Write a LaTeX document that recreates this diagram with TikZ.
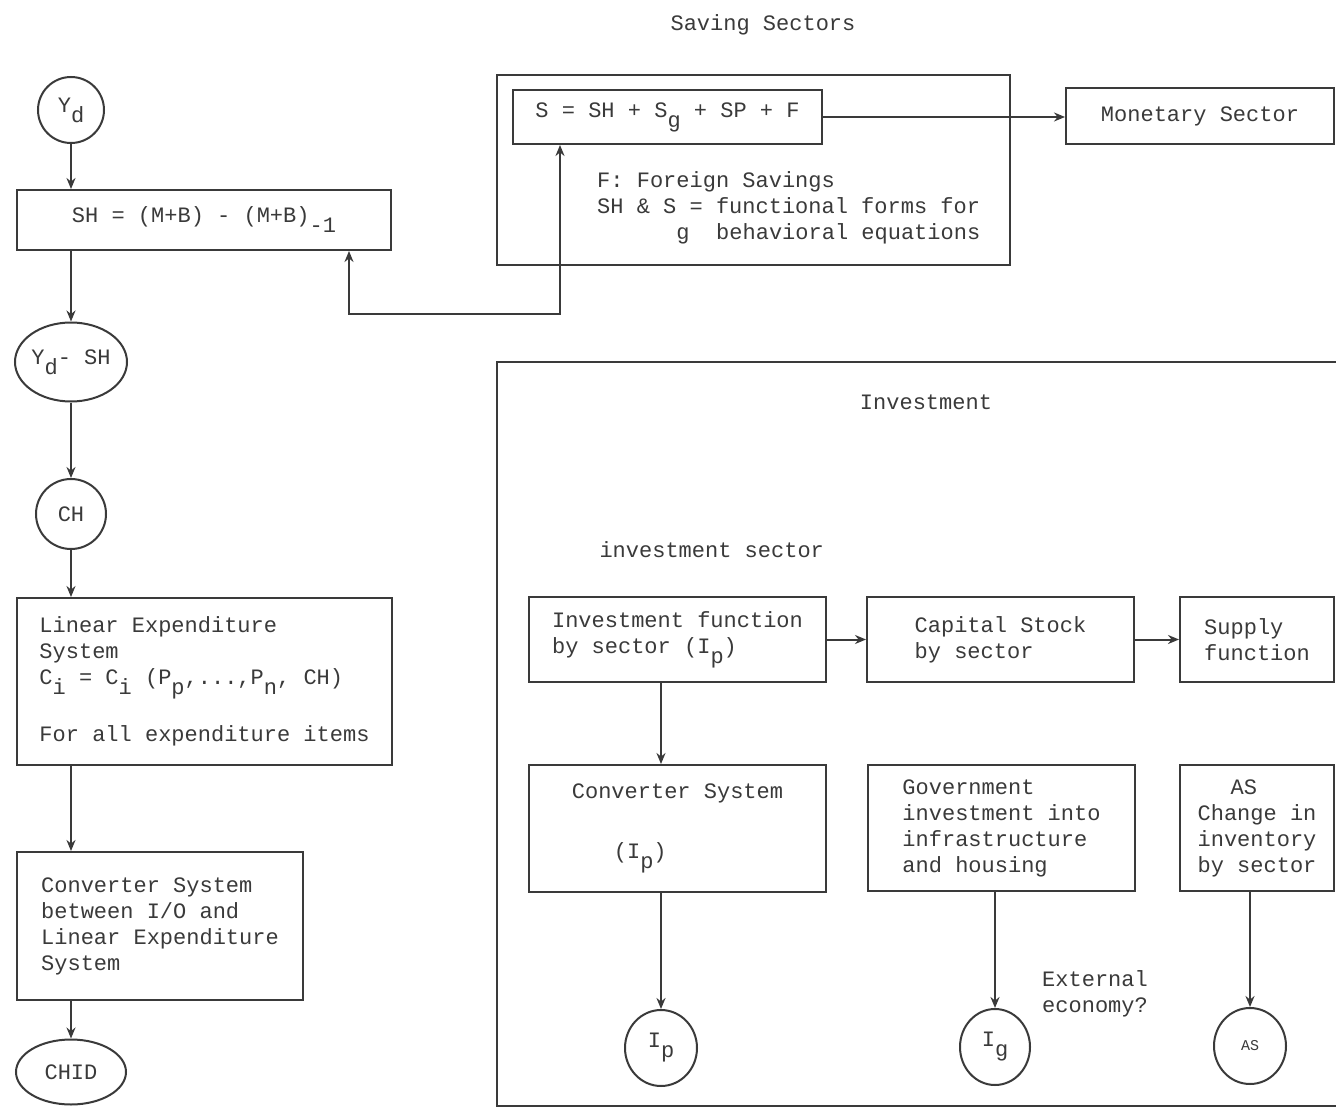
\documentclass[tikz,border=0pt]{standalone}
\usepackage{fontspec}
\setmainfont{Liberation Mono}
\usetikzlibrary{shapes.geometric,arrows.meta}
\definecolor{ink}{HTML}{3A3A3A}
\newcommand{\lowsub}[1]{\raisebox{-10pt}{#1}}
\newcommand{\dropsub}[1]{\makebox[0pt][l]{\raisebox{-26pt}[0pt][0pt]{#1}}}
\begin{document}
\begin{tikzpicture}[x=1pt,y=-1pt,
  every node/.style={font=\fontsize{22}{26}\selectfont, text=ink},
  box/.style={draw=ink, line width=2pt, inner sep=0pt, align=left},
  cbox/.style={draw=ink, line width=2pt, inner sep=0pt, align=center},
  oval/.style={ellipse, draw=ink, line width=2pt, inner sep=0pt},
  arr/.style={draw=ink, line width=2pt, -{Stealth[length=11pt,width=9pt]}},
  darr/.style={draw=ink, line width=2pt, {Stealth[length=11pt,width=9pt]}-{Stealth[length=11pt,width=9pt]}},
  frame/.style={draw=ink, line width=2pt}]
\useasboundingbox[fill=white] (0,0) rectangle (1336,1110);

% ---------- left column ----------
\node[oval, minimum width=66, minimum height=66] (yd) at (71,110) {Y\lowsub{d}};
\node[cbox, minimum width=374, minimum height=60] (sh) at (204,220) {SH = (M+B) - (M+B)\lowsub{-1}};
\node[oval, minimum width=110, minimum height=79] (ydsh) at (71,362) {Y\lowsub{d}- SH};
\node[oval, minimum width=70, minimum height=70] (ch) at (71,514) {CH};
\node[box, minimum width=375, minimum height=167] (les) at (204.5,681.5)
  {Linear Expenditure\\System\\C\lowsub{i} = C\lowsub{i} (P\lowsub{p},...,P\lowsub{n}, CH)\\[26pt]For all expenditure items};
\node[box, minimum width=286, minimum height=148] (conv) at (160,926)
  {Converter System\\between I/O and\\Linear Expenditure\\System};
\node[oval, minimum width=110, minimum height=65] (chid) at (71,1072) {CHID};

\draw[arr] (yd.south) -- (yd.south |- sh.north);
\draw[arr] (sh.south -| yd) -- (ydsh.north);
\draw[arr] (ydsh.south) -- (ch.north);
\draw[arr] (ch.south) -- (ch.south |- les.north);
\draw[arr] (les.south -| ch) -- (conv.north -| ch);
\draw[arr] (conv.south -| chid) -- (chid.north);

% ---------- saving sectors ----------
\node (savtitle) at (763,25) {Saving Sectors};
\node[box, minimum width=513, minimum height=190] (savout) at (753.5,170) {};
\node[cbox, minimum width=309, minimum height=54] (ss) at (667.5,117) {S = SH + S\lowsub{g} + SP + F};
\node[cbox, minimum width=268, minimum height=56] (mon) at (1200,116) {Monetary Sector};
\node[anchor=north west, inner sep=0pt, align=left] (savnote) at (597,171)
  {F: Foreign Savings\\SH \& S\dropsub{g} = functional forms for\\\hspace*{119pt}behavioral equations};
\draw[arr] (ss.east) -- (ss.east -| mon.west);

\coordinate (fbL) at (349,314);
\coordinate (fbR) at (560,314);
\draw[darr] (sh.south -| fbL) -- (fbL) -- (fbR) -- (fbR |- ss.south);

% ---------- investment ----------
\draw[frame] (1336,362) -- (497,362) -- (497,1106) -- (1336,1106);
\node (invtitle) at (926,402) {Investment};
\node[anchor=west] (invsec) at (596,550) {investment sector};

\node[box, minimum width=297, minimum height=85] (if) at (677.5,639.5)
  {Investment function\\by sector (I\lowsub{p})};
\node[box, minimum width=267, minimum height=85] (cs) at (1000.5,639.5)
  {Capital Stock\\by sector};
\node[box, minimum width=154, minimum height=85] (sf) at (1257,639.5)
  {Supply\\function};
\node[box, minimum width=297, minimum height=127] (conv2) at (677.5,828.5)
  {Converter System\\[34pt]\hspace*{42pt}(I\lowsub{p})};
\node[box, minimum width=267, minimum height=126] (gov) at (1001.5,828)
  {Government\\investment into\\infrastructure\\and housing};
\node[box, minimum width=154, minimum height=126] (asb) at (1257,828)
  {\hspace*{33pt}AS\\Change in\\inventory\\by sector};

\node[oval, minimum width=72, minimum height=76] (ip) at (661,1048) {I\lowsub{p}};
\node[oval, minimum width=70, minimum height=76] (ig) at (995,1047) {I\lowsub{g}};
\node[oval, minimum width=72, minimum height=76, font=\fontsize{15}{18}\selectfont] (asc) at (1250,1046) {AS};
\node[anchor=north west, inner sep=0pt, align=left] (ext) at (1042,970) {External\\economy?};

\draw[arr] (if.east) -- (cs.west);
\draw[arr] (cs.east) -- (sf.west);
\draw[arr] (if.south -| ip) -- (conv2.north -| ip);
\draw[arr] (conv2.south -| ip) -- (ip.north);
\draw[arr] (gov.south -| ig) -- (ig.north);
\draw[arr] (asb.south -| asc) -- (asc.north);
\end{tikzpicture}
\end{document}
